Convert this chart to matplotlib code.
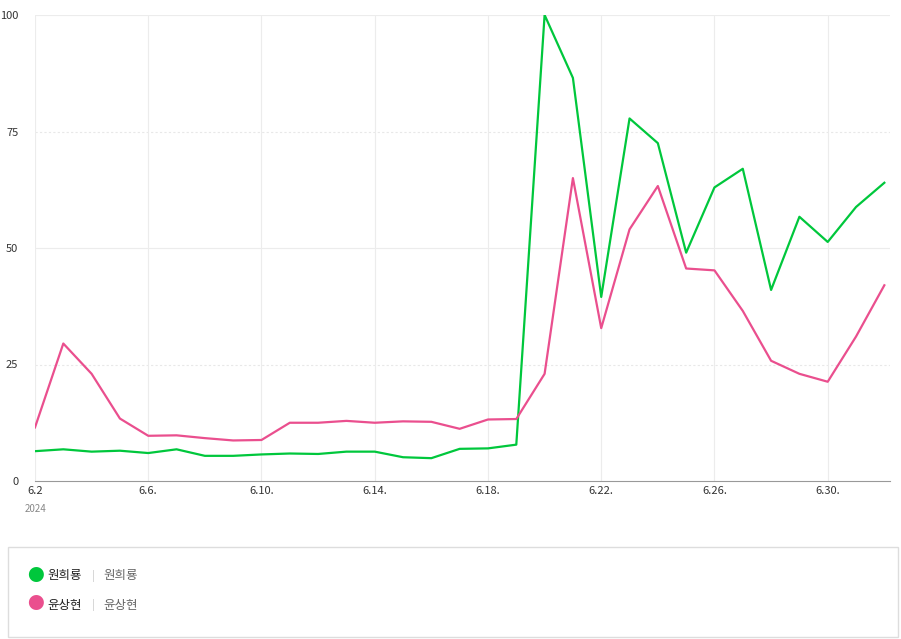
import matplotlib.pyplot as plt
from matplotlib.patches import Rectangle

plt.rcParams['font.family'] = ['Noto Sans CJK KR', 'DejaVu Sans']

# 6.2 ~ 7.2 일별
days = list(range(31))
tick_pos = [0, 4, 8, 12, 16, 20, 24, 28]
tick_labels = ["6.2", "6.6.", "6.10.", "6.14.", "6.18.", "6.22.", "6.26.", "6.30."]

won = [6.4, 6.8, 6.3, 6.5, 6.0, 6.8, 5.4, 5.4, 5.7, 5.9, 5.8, 6.3, 6.3, 5.1, 4.9,
       6.9, 7.0, 7.8, 100, 86.5, 39.5, 77.8, 72.5, 49, 63, 67, 41, 56.7, 51.3, 58.8, 64]
yoon = [11.5, 29.5, 23, 13.4, 9.7, 9.8, 9.2, 8.7, 8.8, 12.5, 12.5, 12.9, 12.5, 12.8, 12.7,
        11.2, 13.2, 13.3, 23, 65, 32.8, 54, 63.3, 45.6, 45.2, 36.5, 25.8, 23, 21.3, 31, 42]

green = "#00c73c"
pink = "#ea4f8e"

fig = plt.figure(figsize=(9.01, 6.39), dpi=100)
ax = fig.add_axes([35/901, 1-481/639, 855/901, 466/639])

ax.plot(days, won, color=green, linewidth=1.6)
ax.plot(days, yoon, color=pink, linewidth=1.6)

ax.set_xlim(0, 30.2)
ax.set_ylim(0, 100)
ax.set_yticks([0, 25, 50, 75, 100])
ax.set_xticks(tick_pos)
ax.set_xticklabels(tick_labels)
ax.tick_params(length=0, labelsize=8, colors="#333333")
ax.tick_params(axis="y", pad=12)
for y in [25, 75]:
    ax.axhline(y, color="#e8e8e8", linewidth=0.8, linestyle=(0, (2, 2)), zorder=0)
for y in [50, 100]:
    ax.axhline(y, color="#ececec", linewidth=0.8, zorder=0)
for x in tick_pos:
    ax.axvline(x, color="#ececec", linewidth=0.8, zorder=0)
for s in ["top", "right", "left"]:
    ax.spines[s].set_visible(False)
ax.spines["bottom"].set_color("#999999")
fig.text(25/901, 1-509/639, "2024", fontsize=7, color="#888888", va="center")

# 범례 박스
fig.patches.append(Rectangle((8/901, 1-637/639), 890/901, 90/639, transform=fig.transFigure,
                             facecolor="white", edgecolor="#dddddd", linewidth=1))
for yy, col, name in [(576, green, "원희룡"), (605, pink, "윤상현")]:
    fy = 1 - yy/639
    fig.text(35/901, fy, "●", color=col, fontsize=12, va="center", ha="center")
    fig.text(47/901, fy, name, fontsize=9, color="#222222", va="center")
    fig.text(92/901, fy, "|", fontsize=8, color="#cccccc", va="center")
    fig.text(103/901, fy, name, fontsize=9, color="#666666", va="center")

fig.savefig("out.png")
